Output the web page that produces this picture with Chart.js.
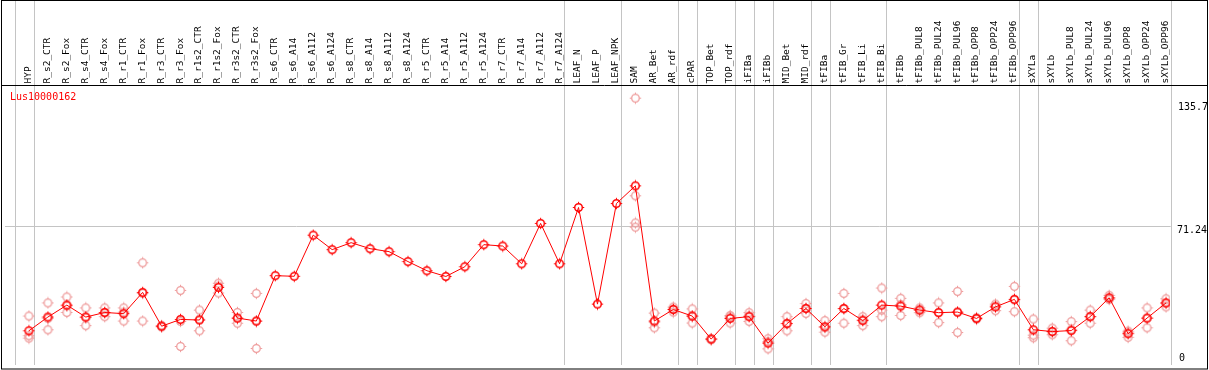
<!DOCTYPE html>
<html>
<head>
<meta charset="utf-8">
<script src="https://cdn.jsdelivr.net/npm/chart.js@4/dist/chart.umd.min.js"></script>
<style>
  html, body { margin: 0; padding: 0; background: #fff; overflow: hidden; }
  canvas { display: block; }
</style>
</head>
<body>
<canvas id="c" width="1209" height="370"></canvas>
<script>
// expression profile — one gene, mean line plus replicate dots

var geneName = "Lus10000162";

var categories = [
  "HYP", "R_s2_CTR", "R_s2_Fox", "R_s4_CTR", "R_s4_Fox", "R_r1_CTR", "R_r1_Fox",
  "R_r3_CTR", "R_r3_Fox", "R_r1s2_CTR", "R_r1s2_Fox", "R_r3s2_CTR", "R_r3s2_Fox",
  "R_s6_CTR", "R_s6_A14", "R_s6_A112", "R_s6_A124", "R_s8_CTR", "R_s8_A14",
  "R_s8_A112", "R_s8_A124", "R_r5_CTR", "R_r5_A14", "R_r5_A112", "R_r5_A124",
  "R_r7_CTR", "R_r7_A14", "R_r7_A112", "R_r7_A124", "LEAF_N", "LEAF_P", "LEAF_NPK",
  "SAM", "AR_Bet", "AR_rdf", "cPAR", "TOP_Bet", "TOP_rdf", "iFIBa", "iFIBb",
  "MID_Bet", "MID_rdf", "tFIBa", "tFIB_Gr", "tFIB_Li", "tFIB_Bi", "tFIBb",
  "tFIBb_PUL8", "tFIBb_PUL24", "tFIBb_PUL96", "tFIBb_OPP8", "tFIBb_OPP24", "tFIBb_OPP96",
  "sXYLa", "sXYLb", "sXYLb_PUL8", "sXYLb_PUL24", "sXYLb_PUL96", "sXYLb_OPP8",
  "sXYLb_OPP24", "sXYLb_OPP96"
];

var meanVals = [
  18.7, 25.6, 31.6, 25.6, 27.9, 27.3, 38.0,
  21.0, 24.4, 24.1, 40.5, 25.1, 23.6,
  46.4, 46.1, 66.8, 59.5, 63.0, 60.0,
  58.5, 53.5, 48.9, 46.0, 50.9, 62.0,
  61.3, 52.4, 72.7, 52.4, 80.7, 32.1, 82.7,
  91.6, 23.6, 29.4, 26.1, 14.5, 24.9, 25.8, 12.5,
  22.3, 29.9, 20.7, 29.9, 23.8, 31.6, 31.1,
  29.1, 27.8, 28.1, 24.9, 30.7, 34.5,
  19.2, 18.3, 18.8, 25.8, 35.3, 17.2,
  25.1, 32.7
];

var n = null;
var rep1 = [
  26.1, 32.7, 35.7, 30.2, 30.2, 30.2, 52.9,
  20.6, 39.0, 29.1, 42.6, 27.9, 37.5,
  n, n, n, n, n, n, n, n, n, n, n, n, n, n, n, n, n, n, n,
  135.7, 27.6, 30.6, 29.7, 14.2, 26.4, 27.8, 14.7,
  25.8, 32.4, 23.8, 37.5, 25.8, 40.2, 35.0,
  30.2, 32.7, 38.5, 24.5, 32.1, 41.0,
  24.6, 20.0, 23.3, 29.1, 36.5, 18.5,
  30.2, 34.8
];
var rep2 = [
  16.2, 19.2, 27.9, 21.3, 25.8, 23.6, 23.6,
  21.4, 10.8, 18.7, 37.7, 22.5, 9.8,
  n, n, n, n, n, n, n, n, n, n, n, n, n, n, n, n, n, n, n,
  86.6, 20.2, 28.1, 22.6, 14.8, 22.6, 23.4, 9.6,
  18.7, 27.4, 18.0, 22.5, 21.3, 29.1, 26.4,
  27.8, 22.8, 17.8, 25.3, 28.8, 28.3,
  16.5, 16.7, 13.7, 22.5, 34.4, 15.4,
  20.2, 30.7
];
var rep3 = [
  15.0, 24.9, 31.2, 25.3, 27.7, 28.1, 37.5,
  n, 23.4, 24.5, 41.2, 24.9, 23.5,
  n, n, n, n, n, n, n, n, n, n, n, n, n, n, n, n, n, n, n,
  72.9, 23.0, 29.5, 26.0, n, 25.7, 26.2, 13.2,
  22.4, 29.9, 20.3, 29.7, 24.3, 25.8, 31.9,
  29.3, 27.9, 28.0, n, 31.2, 34.2,
  15.2, 18.2, 19.4, 25.8, 35.0, 17.7,
  24.9, 32.6
];
var rep4 = categories.map(function(c) { return c === "SAM" ? 70.8 : null; });

var yTickValues = [135.7, 71.24, 0];
var yTickLabels = ["135.7", "71.24", "0"];
var gridValue = 71.24;

// group separators sit just right of these category indices
var groupEnds = [-1, 0, 28, 31, 34, 35, 37, 38, 39, 41, 42, 45, 52, 53, 60];

var RED = "#ff0000";
var PINK = "#ee9a9a";
var GRID = "#c4c4c4";
var MONO = "'DejaVu Sans Mono', 'Liberation Mono', monospace";

// ring with four tiny bumps, like the original plotter's marker
function marker(color, lw) {
  var s = 13, c = 6.5;
  var cv = document.createElement("canvas");
  cv.width = s; cv.height = s;
  var g = cv.getContext("2d");
  g.strokeStyle = color;
  g.lineWidth = lw;
  g.beginPath();
  g.arc(c, c, 3.8, 0, Math.PI * 2);
  g.stroke();
  g.fillStyle = color;
  g.fillRect(6, 0.8, 1, 1.2);
  g.fillRect(6, 11, 1, 1.2);
  g.fillRect(0.8, 6, 1.2, 1);
  g.fillRect(11, 6, 1.2, 1);
  return cv;
}

function toPoints(arr) {
  var out = [];
  arr.forEach(function(v, i) { if (v !== null) out.push({ x: i, y: v }); });
  return out;
}

var repPoints = [].concat(toPoints(rep1), toPoints(rep2), toPoints(rep3), toPoints(rep4));

var decor = {
  id: "decor",
  beforeDraw: function(chart) {
    var ctx = chart.ctx;
    ctx.save();
    ctx.fillStyle = "#fff";
    ctx.fillRect(0, 0, chart.width, chart.height);
    ctx.restore();
  },
  beforeDatasetsDraw: function(chart) {
    var ctx = chart.ctx, xs = chart.scales.x, ys = chart.scales.y, a = chart.chartArea;
    ctx.save();
    ctx.strokeStyle = GRID;
    ctx.lineWidth = 1;
    // horizontal grid line
    var gy = Math.round(ys.getPixelForValue(gridValue)) + 0.5;
    ctx.beginPath();
    ctx.moveTo(a.left, gy); ctx.lineTo(xs.getPixelForValue(60.25), gy);
    ctx.stroke();
    // group separators, through the header too
    groupEnds.forEach(function(i) {
      var x = Math.round(xs.getPixelForValue(i + 0.25)) + 0.5;
      ctx.beginPath();
      ctx.moveTo(x, 1); ctx.lineTo(x, a.bottom);
      ctx.stroke();
    });
    // rotated category labels
    ctx.fillStyle = "#000";
    ctx.font = "9.5px " + MONO;
    ctx.textAlign = "left";
    ctx.textBaseline = "middle";
    categories.forEach(function(lab, i) {
      var x = xs.getPixelForValue(i) - 0.5;
      ctx.save();
      ctx.translate(x, 83.5);
      ctx.rotate(-Math.PI / 2);
      ctx.fillText(lab, 0, 0);
      ctx.restore();
    });
    ctx.restore();
  },
  afterDraw: function(chart) {
    var ctx = chart.ctx, ys = chart.scales.y, a = chart.chartArea;
    ctx.save();
    ctx.font = "10px " + MONO;
    ctx.fillStyle = RED;
    ctx.textAlign = "left";
    ctx.textBaseline = "middle";
    ctx.fillText(geneName, 10, 97.5);
    // right side value labels, left aligned in the margin strip
    ctx.fillStyle = "#000";
    yTickValues.forEach(function(v, k) {
      var y = ys.getPixelForValue(v);
      var x = 1177;
      if (k === 0) { y += 9; x = 1178; }
      else if (k === 1) { y += 4.5; }
      else { y = a.bottom - 7; x = 1179; }
      ctx.fillText(yTickLabels[k], x, y);
    });
    // frame
    ctx.strokeStyle = "#000";
    ctx.lineWidth = 1;
    ctx.strokeRect(1.5, 0.5, 1206, 368.5);
    ctx.beginPath();
    ctx.moveTo(1, 85.5); ctx.lineTo(1208, 85.5);
    ctx.stroke();
    ctx.restore();
  }
};

new Chart(document.getElementById("c").getContext("2d"), {
  type: "scatter",
  data: {
    datasets: [
      {
        type: "line",
        label: "mean",
        data: toPoints(meanVals),
        borderColor: RED,
        borderWidth: 1,
        pointStyle: marker(RED, 1.5),
        tension: 0,
        fill: false,
        order: 0
      },
      {
        type: "scatter",
        label: "replicates",
        data: repPoints,
        pointStyle: marker(PINK, 1.3),
        order: 1
      }
    ]
  },
  options: {
    responsive: false,
    devicePixelRatio: 1,
    animation: false,
    layout: { padding: { left: 2, right: 39, top: 87, bottom: 1 } },
    plugins: { legend: { display: false }, tooltip: { enabled: false } },
    scales: {
      x: { type: "linear", display: false, min: -1.263, max: 60.21 },
      y: { type: "linear", display: false, min: 1.48, max: 141.3 }
    }
  },
  plugins: [decor]
});
</script>
</body>
</html>
